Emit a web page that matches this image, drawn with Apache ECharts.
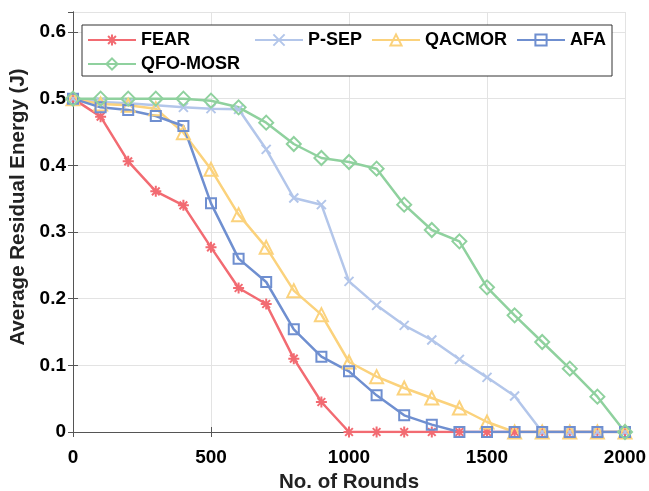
<!DOCTYPE html>
<html>
<head>
<meta charset="utf-8">
<script src="https://cdn.jsdelivr.net/npm/echarts@6/dist/echarts.min.js"></script>
<style>
  html, body { margin: 0; padding: 0; background: #fff; }
  #chart { width: 649px; height: 491px; }
</style>
</head>
<body>
<div id="chart"></div>
<script>
// rounds (x axis)
const rounds = [0, 100, 200, 300, 400, 500, 600, 700, 800, 900, 1000,
  1100, 1200, 1300, 1400, 1500, 1600, 1700, 1800, 1900, 2000];

// residual energy per method
const fear = [0.5, 0.473, 0.406, 0.361, 0.340, 0.277, 0.216, 0.192, 0.110, 0.045, 0,
  0, 0, 0, 0, 0, 0, 0, 0, 0, 0];
const psep = [0.5, 0.495, 0.493, 0.490, 0.487, 0.485, 0.484, 0.424, 0.351, 0.341, 0.226,
  0.190, 0.160, 0.138, 0.109, 0.082, 0.054, 0, 0, 0, 0];
const qacmor = [0.5, 0.492, 0.490, 0.485, 0.449, 0.394, 0.326, 0.277, 0.212, 0.176, 0.105,
  0.083, 0.066, 0.051, 0.036, 0.015, 0, 0, 0, 0, 0];
const afa = [0.5, 0.487, 0.483, 0.474, 0.459, 0.343, 0.260, 0.225, 0.154, 0.113, 0.091,
  0.055, 0.025, 0.011, 0, 0, 0, 0, 0, 0, 0];
const qfo = [0.5, 0.5, 0.5, 0.5, 0.5, 0.497, 0.487, 0.464, 0.432, 0.411, 0.405,
  0.395, 0.341, 0.303, 0.286, 0.217, 0.175, 0.135, 0.095, 0.053, 0];

const xTicks = [0, 500, 1000, 1500, 2000];

const FONT = "'Liberation Sans', Arial, sans-serif";

// marker shapes
const starPath = "path://M0,-10L0,10M-10,0L10,0M-7,-7L7,7M-7,7L7,-7";
const crossPath = "path://M-10,-10L10,10M-10,10L10,-10";

function pairs(ys) {
  return rounds.map((x, i) => [x, ys[i]]);
}

function mkSeries(name, ys, color, symbol, size) {
  return {
    name: name,
    type: "line",
    data: pairs(ys),
    symbol: symbol,
    symbolSize: size,
    showAllSymbol: true,
    lineStyle: { color: color, width: 2.5 },
    itemStyle: { color: "rgba(255,255,255,0)", borderColor: color, borderWidth: 2 },
    emphasis: { disabled: true },
  };
}

// axis look shared by all four sides
const axisLine = { show: true, lineStyle: { color: "#555", width: 1 } };
const axisTick = { show: true, inside: true, length: 5, lineStyle: { color: "#555" } };
const labelStyle = { color: "#000", fontFamily: FONT, fontWeight: "bold", fontSize: 19 };
const nameStyle = { color: "#222", fontFamily: FONT, fontWeight: "bold", fontSize: 20.5 };

function legendAt(name, left, top) {
  return {
    data: [name],
    left: left,
    top: top,
    padding: 0,
    itemWidth: 48,
    itemHeight: 14,
    z: 10,
    textStyle: { color: "#000", fontFamily: FONT, fontWeight: "bold", fontSize: 18 },
  };
}

const chart = echarts.init(document.getElementById("chart"), null, { renderer: "canvas" });

const option = {
  animation: false,
  backgroundColor: "#fff",
  grid: { left: 73, right: 24, top: 12, bottom: 59, containLabel: false, outerBoundsMode: "none" },
  graphic: [
    {
      type: "rect",
      z: 5,
      shape: { x: 82, y: 25, width: 530, height: 51 },
      style: { fill: "#fff", stroke: "#333", lineWidth: 1 },
    },
  ],
  legend: [
    legendAt("FEAR", 87, 31),
    legendAt("P-SEP", 254, 31),
    legendAt("QACMOR", 371, 31),
    legendAt("AFA", 516, 31),
    legendAt("QFO-MOSR", 87, 55),
  ],
  xAxis: [
    {
      type: "value",
      min: 0,
      max: 2000,
      interval: 500,
      axisLine: axisLine,
      axisTick: axisTick,
      axisLabel: Object.assign({ margin: 16 }, labelStyle, {
        formatter: (v) => (xTicks.includes(v) ? String(v) : ""),
      }),
      splitLine: { show: true, lineStyle: { color: "#e3e3e3", width: 1 } },
      name: "No. of Rounds",
      nameLocation: "middle",
      nameGap: 40,
      nameTextStyle: nameStyle,
    },
    {
      type: "value",
      position: "top",
      min: 0,
      max: 2000,
      interval: 500,
      axisLine: axisLine,
      axisTick: axisTick,
      axisLabel: { show: false },
      splitLine: { show: false },
    },
  ],
  yAxis: [
    {
      type: "value",
      min: 0,
      max: 0.63,
      interval: 0.1,
      axisLine: axisLine,
      axisTick: axisTick,
      axisLabel: Object.assign({ margin: 7, showMaxLabel: false }, labelStyle),
      splitLine: { show: true, lineStyle: { color: "#e3e3e3", width: 1 } },
      name: "Average Residual Energy (J)",
      nameLocation: "middle",
      nameGap: 38,
      nameTextStyle: Object.assign({ padding: [0, 0, 0, 30] }, nameStyle),
    },
    {
      type: "value",
      position: "right",
      min: 0,
      max: 0.63,
      interval: 0.1,
      axisLine: axisLine,
      axisTick: axisTick,
      axisLabel: { show: false },
      splitLine: { show: false },
    },
  ],
  series: [
    mkSeries("FEAR", fear, "#f26b72", starPath, 11),
    mkSeries("P-SEP", psep, "#b3c6ea", crossPath, 9),
    mkSeries("QACMOR", qacmor, "#fbd27c", "triangle", 13),
    mkSeries("AFA", afa, "#6f8fd0", "rect", 10),
    mkSeries("QFO-MOSR", qfo, "#8fd19e", "diamond", 14),
  ],
};

chart.setOption(option);
</script>
</body>
</html>
